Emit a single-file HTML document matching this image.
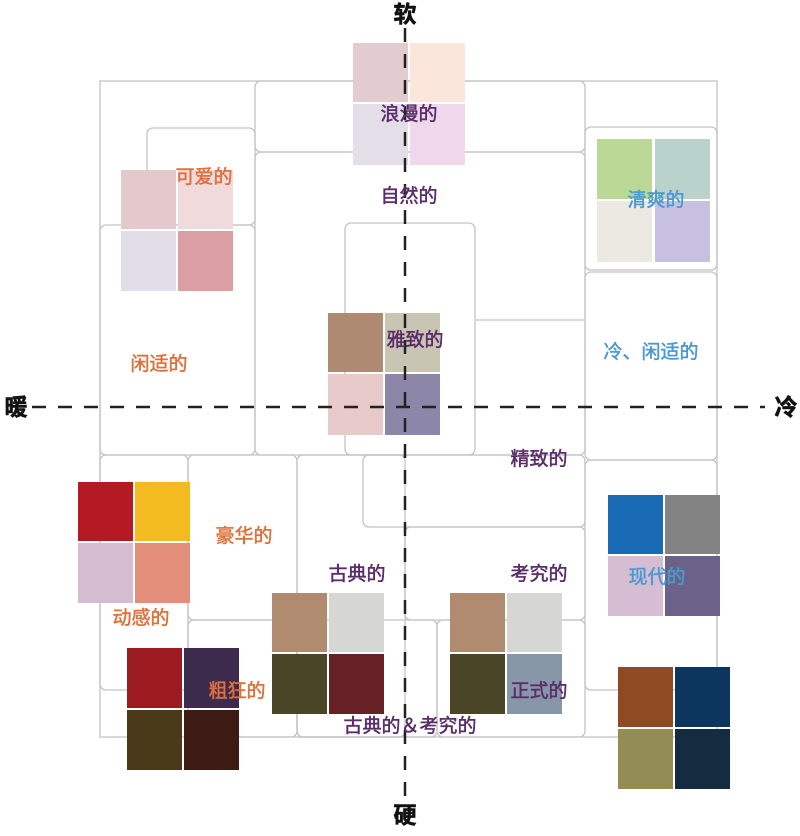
<!DOCTYPE html>
<html><head><meta charset="utf-8"><style>
body{margin:0;background:#fff}
svg text{font-family:"Liberation Sans","Noto Sans CJK SC",sans-serif}
</style></head><body>
<svg width="800" height="831" viewBox="0 0 800 831" xmlns="http://www.w3.org/2000/svg">
<g fill="none" stroke="#c4c4c4" stroke-width="1.3">
<rect x="100" y="81" width="617" height="656"/>
<rect x="255" y="81" width="330" height="71" rx="6"/>
<rect x="255" y="152" width="330" height="303" rx="6"/>
<rect x="147" y="128" width="108" height="97" rx="6"/>
<rect x="100" y="225" width="155" height="230" rx="6"/>
<rect x="345" y="223" width="130" height="232" rx="6"/>
<line x1="475" y1="320" x2="585" y2="320"/>
<rect x="585" y="127" width="132" height="143" rx="6"/>
<rect x="585" y="272" width="132" height="188" rx="6"/>
<rect x="363" y="455" width="222" height="72" rx="6"/>
<rect x="100" y="455" width="88" height="235" rx="6"/>
<rect x="188" y="455" width="109" height="165" rx="6"/>
<rect x="188" y="620" width="109" height="117" rx="6"/>
<rect x="297" y="455" width="108" height="282" rx="6"/>
<rect x="405" y="527" width="180" height="93" rx="6"/>
<rect x="297" y="620" width="140" height="117" rx="6"/>
<rect x="437" y="620" width="148" height="117" rx="6"/>
<rect x="585" y="460" width="132" height="230" rx="6"/>
</g>
<g>
<rect x="353" y="43" width="55" height="59" fill="#e2ccd0"/><rect x="410" y="43" width="55" height="59" fill="#fbe6dc"/>
<rect x="353" y="104" width="55" height="61" fill="#e4dee9"/><rect x="410" y="104" width="55" height="61" fill="#efd8ec"/>
<rect x="121" y="170" width="55" height="59" fill="#e4c9cc"/><rect x="178" y="170" width="55" height="59" fill="#f1dadc"/>
<rect x="121" y="231" width="55" height="60" fill="#e3dde8"/><rect x="178" y="231" width="55" height="60" fill="#db9fa3"/>
<rect x="328" y="313" width="55" height="59" fill="#ad8a71"/><rect x="385" y="313" width="55" height="59" fill="#c8c6b2"/>
<rect x="328" y="374" width="55" height="61" fill="#e8cacb"/><rect x="385" y="374" width="55" height="61" fill="#8c86a8"/>
<rect x="597" y="139" width="55" height="60" fill="#bcd896"/><rect x="655" y="139" width="55" height="60" fill="#bad2cc"/>
<rect x="597" y="201" width="55" height="61" fill="#ece9e3"/><rect x="655" y="201" width="55" height="61" fill="#c8c0e0"/>
<rect x="78" y="482" width="55" height="59" fill="#b51a24"/><rect x="135" y="482" width="55" height="59" fill="#f3bb20"/>
<rect x="78" y="543" width="55" height="60" fill="#d6bcd1"/><rect x="135" y="543" width="55" height="60" fill="#e28e7a"/>
<rect x="127" y="648" width="55" height="60" fill="#9b1b20"/><rect x="184" y="648" width="55" height="60" fill="#3c2b4d"/>
<rect x="127" y="710" width="55" height="60" fill="#4a3a1a"/><rect x="184" y="710" width="55" height="60" fill="#3d1b14"/>
<rect x="272" y="593" width="55" height="59" fill="#b08b70"/><rect x="329" y="593" width="55" height="59" fill="#d6d6d2"/>
<rect x="272" y="654" width="55" height="60" fill="#4a4526"/><rect x="329" y="654" width="55" height="60" fill="#662026"/>
<rect x="450" y="593" width="55" height="59" fill="#b08b70"/><rect x="507" y="593" width="55" height="59" fill="#d6d6d2"/>
<rect x="450" y="654" width="55" height="60" fill="#4a4526"/><rect x="507" y="654" width="55" height="60" fill="#8797a8"/>
<rect x="608" y="495" width="55" height="59" fill="#1a6bb5"/><rect x="665" y="495" width="55" height="59" fill="#838384"/>
<rect x="608" y="556" width="55" height="60" fill="#d7bdd3"/><rect x="665" y="556" width="55" height="60" fill="#6c6188"/>
<rect x="618" y="667" width="55" height="60" fill="#8e4a20"/><rect x="675" y="667" width="55" height="60" fill="#0c365d"/>
<rect x="618" y="729" width="55" height="60" fill="#938c54"/><rect x="675" y="729" width="55" height="60" fill="#152b3f"/>
</g>
<g stroke="#222" stroke-width="2.5" stroke-dasharray="14,12">
<line x1="405" y1="28" x2="405" y2="800"/>
<line x1="32" y1="407" x2="765" y2="407"/>
</g>
<g font-size="19" stroke-width="0.5">
<text x="409" y="120" fill="#5a2c6a" stroke="#5a2c6a" text-anchor="middle">浪漫的</text>
<text x="409" y="202" fill="#5a2c6a" stroke="#5a2c6a" text-anchor="middle">自然的</text>
<text x="204" y="183" fill="#e0703a" stroke="#e0703a" text-anchor="middle">可爱的</text>
<text x="159" y="370" fill="#e0703a" stroke="#e0703a" text-anchor="middle">闲适的</text>
<text x="415" y="346" fill="#5a2c6a" stroke="#5a2c6a" text-anchor="middle">雅致的</text>
<text x="656" y="206" fill="#4a9ad0" stroke="#4a9ad0" text-anchor="middle">清爽的</text>
<text x="651" y="358" fill="#4a9ad0" stroke="#4a9ad0" text-anchor="middle">冷、闲适的</text>
<text x="539" y="465" fill="#5a2c6a" stroke="#5a2c6a" text-anchor="middle">精致的</text>
<text x="244" y="542" fill="#e0703a" stroke="#e0703a" text-anchor="middle">豪华的</text>
<text x="141" y="624" fill="#e0703a" stroke="#e0703a" text-anchor="middle">动感的</text>
<text x="357" y="580" fill="#5a2c6a" stroke="#5a2c6a" text-anchor="middle">古典的</text>
<text x="539" y="580" fill="#5a2c6a" stroke="#5a2c6a" text-anchor="middle">考究的</text>
<text x="657" y="583" fill="#4a9ad0" stroke="#4a9ad0" text-anchor="middle">现代的</text>
<text x="237" y="697" fill="#e0703a" stroke="#e0703a" text-anchor="middle">粗狂的</text>
<text x="539" y="697" fill="#5a2c6a" stroke="#5a2c6a" text-anchor="middle">正式的</text>
<text x="410" y="732" fill="#5a2c6a" stroke="#5a2c6a" text-anchor="middle">古典的＆考究的</text>
</g>
<g font-size="23" font-weight="bold" fill="#111" stroke="#111" stroke-width="0.6" text-anchor="middle">
<text x="405" y="22">软</text>
<text x="405" y="823">硬</text>
<text x="16" y="415">暖</text>
<text x="786" y="415">冷</text>
</g>
</svg>
</body></html>
